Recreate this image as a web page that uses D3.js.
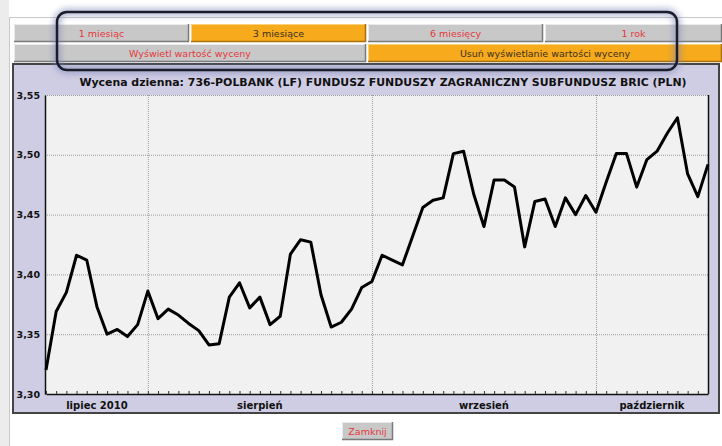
<!DOCTYPE html>
<html>
<head>
<meta charset="utf-8">
<script src="https://cdn.jsdelivr.net/npm/d3@7"></script>
<style>
  body { margin: 0; background: #fff; }
  svg { display: block; }
</style>
</head>
<body>
<div id="chart"></div>
<script>
// daily valuation, 19.07.2010 - 18.10.2010 (trading days)
const values = [
  3.320, 3.369, 3.385, 3.416, 3.412, 3.373, 3.350, 3.354, 3.348, 3.358,
  3.386, 3.363, 3.371, 3.366, 3.359, 3.353, 3.341, 3.342, 3.381, 3.393,
  3.372, 3.381, 3.358, 3.365, 3.417, 3.429, 3.427, 3.383, 3.356, 3.360,
  3.371, 3.389, 3.394, 3.416, 3.412, 3.408, 3.432, 3.456, 3.462, 3.464,
  3.501, 3.503, 3.467, 3.440, 3.479, 3.479, 3.473, 3.423, 3.461, 3.463,
  3.440, 3.464, 3.450, 3.466, 3.452, 3.477, 3.501, 3.501, 3.473, 3.496,
  3.503, 3.518, 3.531, 3.484, 3.465, 3.492
];
const months = ["lipiec 2010", "sierpień", "wrzesień", "październik"];
const monthDays = [10, 22, 22, 12];
const yTicks = [3.30, 3.35, 3.40, 3.45, 3.50, 3.55];
const periodButtons = ["1 miesiąc", "3 miesiące", "6 miesięcy", "1 rok"];
const valueButtons = ["Wyświetl wartość wyceny", "Usuń wyświetlanie wartości wyceny"];
const title = "Wycena dzienna: 736-POLBANK (LF) FUNDUSZ FUNDUSZY ZAGRANICZNY SUBFUNDUSZ BRIC (PLN)";

const w = 722, h = 446;
const svg = d3.select("#chart").append("svg").attr("width", w).attr("height", h)
  .style("font-family", "DejaVu Sans, Verdana, sans-serif");

const defs = svg.append("defs");
const glow = defs.append("filter").attr("id", "glow")
  .attr("x", "-10%").attr("y", "-50%").attr("width", "120%").attr("height", "200%");
glow.append("feGaussianBlur").attr("stdDeviation", 3);

// page frame
svg.append("rect").attr("x", 0).attr("y", 0).attr("width", 9).attr("height", h).attr("fill", "#ececec");
svg.append("rect").attr("x", 9.5).attr("y", 17.5).attr("width", 720).attr("height", 440)
  .attr("fill", "#fff").attr("stroke", "#c8c8c8");

// buttons
function button(x, y, bw, bh, label, active) {
  const g = svg.append("g");
  g.append("rect").attr("x", x).attr("y", y).attr("width", bw).attr("height", bh)
    .attr("fill", active ? "#f6aa1c" : "#c8c8c8");
  g.append("path")
    .attr("d", `M${x + 0.5},${y + bh} V${y + 0.5} H${x + bw}`)
    .attr("stroke", active ? "#fbd27a" : "#ebebeb").attr("fill", "none");
  g.append("path")
    .attr("d", `M${x},${y + bh - 0.5} H${x + bw - 0.5} V${y}`)
    .attr("stroke", active ? "#a86f0a" : "#7a7a7a").attr("stroke-width", 1.5).attr("fill", "none");
  g.append("text").attr("x", x + bw / 2).attr("y", y + bh / 2 + 3.5)
    .attr("text-anchor", "middle").attr("font-size", 9.5)
    .attr("fill", active ? "#3a3020" : "#e2393a").text(label);
}
const row1 = [14, 191, 368, 545, 724];
periodButtons.forEach((b, i) => button(row1[i], 24, row1[i + 1] - row1[i] - 2, 18, b, i === 1));
const row2 = [14, 368, 724];
valueButtons.forEach((b, i) => button(row2[i], 44, row2[i + 1] - row2[i] - 2, 18, b, i === 1));

// chart panel
svg.append("rect").attr("x", 13).attr("y", 64).attr("width", 706).attr("height", 349)
  .attr("fill", "#cfcde4").attr("stroke", "#444").attr("stroke-width", 2);

const m = { left: 45, right: 708, top: 95, bottom: 394 };
const x = d3.scaleLinear().domain([0, values.length - 1]).range([m.left + 1, m.right]);
const y = d3.scaleLinear().domain([3.30, 3.55]).range([m.bottom, m.top]);

svg.append("rect").attr("x", m.left).attr("y", m.top)
  .attr("width", m.right - m.left).attr("height", m.bottom - m.top).attr("fill", "#f0f1f0");

// title, sized to span the same width as the original
const titleText = svg.append("text").attr("x", 383).attr("y", 86).attr("text-anchor", "middle")
  .attr("font-size", 12).attr("font-weight", "bold").attr("fill", "#111").text(title);
const tw = titleText.node().getComputedTextLength();
if (tw > 610) titleText.attr("font-size", 12 * 608 / tw);

// month boundaries
const starts = [];
monthDays.reduce((acc, n) => { starts.push(acc); return acc + n; }, 0);

// horizontal grid
svg.append("g").attr("transform", `translate(${m.left},0)`)
  .call(d3.axisLeft(y).tickValues(yTicks).tickSize(-(m.right - m.left)).tickFormat(""))
  .call(g => g.select(".domain").remove())
  .call(g => g.selectAll("line").attr("stroke", "#9a9a9a").attr("stroke-dasharray", "1,1"));

// vertical grid at month starts
svg.append("g").attr("transform", `translate(0,${m.bottom})`)
  .call(d3.axisBottom(x).tickValues(starts.slice(1)).tickSize(-(m.bottom - m.top)).tickFormat(""))
  .call(g => g.select(".domain").remove())
  .call(g => g.selectAll("line").attr("stroke", "#9a9a9a").attr("stroke-dasharray", "1,1"));

// y axis labels
svg.append("g").attr("transform", `translate(${m.left},0)`)
  .call(d3.axisLeft(y).tickValues(yTicks).tickSize(0).tickPadding(5)
    .tickFormat(d => d.toFixed(2).replace(".", ",")))
  .call(g => g.select(".domain").attr("stroke", "#111").attr("stroke-width", 1.5))
  .call(g => g.selectAll("text").attr("font-size", 9.5).attr("font-weight", "bold")
    .attr("fill", "#111").attr("font-family", "DejaVu Sans, Verdana, sans-serif"));

// bottom axis with daily ticks
svg.append("g").attr("transform", `translate(0,${m.bottom})`)
  .call(d3.axisBottom(x).tickValues(d3.range(values.length)).tickSize(-3).tickFormat("").tickSizeOuter(0))
  .call(g => g.select(".domain").attr("stroke", "#111").attr("stroke-width", 1.5))
  .call(g => g.selectAll(".tick line").attr("stroke", "#333"));

// right border
svg.append("line").attr("x1", m.right + 0.5).attr("x2", m.right + 0.5)
  .attr("y1", m.top).attr("y2", m.bottom).attr("stroke", "#111").attr("stroke-width", 1.5);

// month labels
svg.append("g").selectAll("text").data(months).join("text")
  .attr("x", (d, i) => {
    const a = starts[i];
    const b = i < months.length - 1 ? starts[i + 1] : values.length - 1;
    return x((a + b) / 2);
  })
  .attr("y", 409).attr("text-anchor", "middle")
  .attr("font-size", 10).attr("font-weight", "bold").attr("fill", "#111")
  .text(d => d);

// data line
svg.append("path").datum(values)
  .attr("d", d3.line().x((d, i) => x(i)).y(d => y(d)))
  .attr("fill", "none").attr("stroke", "#000").attr("stroke-width", 3)
  .attr("stroke-linejoin", "round");

// close button
button(342, 422, 51, 18, "Zamknij", false);

// highlight frame around period buttons
svg.append("rect").attr("x", 57).attr("y", 12).attr("width", 620).attr("height", 58).attr("rx", 10)
  .attr("fill", "none").attr("stroke", "#7e86b8").attr("stroke-width", 7).attr("opacity", 0.6)
  .attr("filter", "url(#glow)");
svg.append("rect").attr("x", 57).attr("y", 12).attr("width", 620).attr("height", 58).attr("rx", 10)
  .attr("fill", "none").attr("stroke", "#1c1d2b").attr("stroke-width", 2.5);
</script>
</body>
</html>
